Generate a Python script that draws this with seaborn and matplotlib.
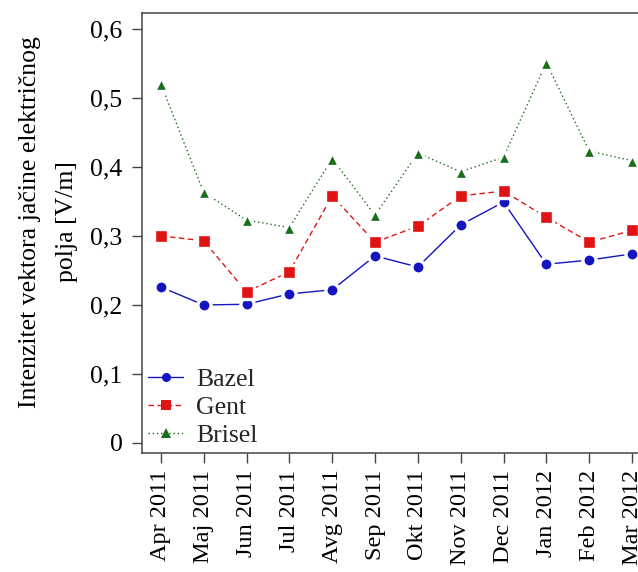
import numpy as np
import pandas as pd
import seaborn as sns
import matplotlib.pyplot as plt

months = ['Apr 2011', 'Maj 2011', 'Jun 2011', 'Jul 2011', 'Avg 2011', 'Sep 2011',
          'Okt 2011', 'Nov 2011', 'Dec 2011', 'Jan 2012', 'Feb 2012', 'Mar 2012']
bazel = [0.226, 0.200, 0.201, 0.216, 0.222, 0.271, 0.255, 0.316, 0.349, 0.259, 0.265, 0.274]
gent = [0.300, 0.293, 0.219, 0.248, 0.358, 0.291, 0.314, 0.358, 0.365, 0.327, 0.291, 0.308]
brisel = [0.520, 0.363, 0.323, 0.312, 0.412, 0.330, 0.420, 0.393, 0.414, 0.551, 0.423, 0.409]
yticks = [0, 0.1, 0.2, 0.3, 0.4, 0.5, 0.6]
ytick_labels = ['0', '0,1', '0,2', '0,3', '0,4', '0,5', '0,6']

sns.set_theme(style='ticks')
plt.rcParams['font.family'] = ['Liberation Serif', 'DejaVu Serif']
plt.rcParams['axes.edgecolor'] = '#444444'
plt.rcParams['xtick.color'] = '#444444'
plt.rcParams['ytick.color'] = '#444444'

# long form table for seaborn
df = pd.DataFrame({
    'idx': list(range(len(months))) * 3,
    'value': bazel + gent + brisel,
    'grad': ['Bazel'] * len(months) + ['Gent'] * len(months) + ['Brisel'] * len(months),
})

fig = plt.figure(figsize=(6.38, 5.72), dpi=100)
# axes reaches past the right edge, like the cropped original
ax = fig.add_axes([142 / 638, 119 / 572, 514 / 638, 440 / 572])

palette = {'Bazel': '#1414c0', 'Gent': '#e01414', 'Brisel': '#1a6e1a'}
markers = {'Bazel': 'o', 'Gent': 's', 'Brisel': '^'}
dashes = {'Bazel': '', 'Gent': (4, 2.5), 'Brisel': (1, 2)}

sns.lineplot(data=df, x='idx', y='value', hue='grad', style='grad',
             hue_order=['Bazel', 'Gent', 'Brisel'], style_order=['Bazel', 'Gent', 'Brisel'],
             palette=palette, markers=markers, dashes=dashes, lw=1.0,
             markersize=9.5, markeredgewidth=2.4, markeredgecolor='white', ax=ax)

old = ax.get_legend()
handles = old.legend_handles
labels = [t.get_text() for t in old.get_texts()]
for h in handles:
    h.set_markeredgewidth(0)
    h.set_markersize(6.5)
ax.legend(handles, labels, loc='lower left', frameon=False, fontsize=18.5,
          handlelength=1.35, handletextpad=0.5, labelspacing=0.18,
          borderpad=0.15, borderaxespad=0.1)

ax.set_xlim(-0.44, 11.56)
ax.set_ylim(-0.0145, 0.623)
ax.set_xticks(range(len(months)))
ax.set_xticklabels(months, rotation=90, fontsize=17.5, color='black')
ax.set_yticks(yticks)
ax.set_yticklabels(ytick_labels, fontsize=18.5, color='black')
ax.tick_params(axis='both', length=7, width=1.0)
ax.tick_params(axis='y', pad=7)
ax.tick_params(axis='x', pad=5)
ax.set_xlabel('')
ax.set_ylabel('Intenzitet vektora jačine električnog\npolja [V/m]', fontsize=18.5,
              linespacing=1.85, color='black')
ax.yaxis.set_label_coords(-0.125, 0.525)
for s in ax.spines.values():
    s.set_linewidth(1.1)

fig.savefig('out.png', dpi=100)
